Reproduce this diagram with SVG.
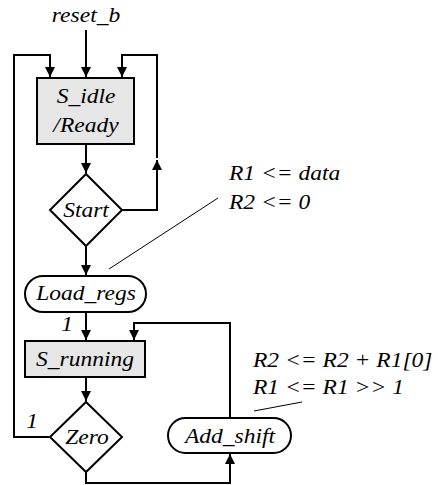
<svg xmlns="http://www.w3.org/2000/svg" width="438" height="485" viewBox="0 0 438 485">
<style>
text{font-family:'Liberation Serif','Times New Roman',Times,serif;font-style:italic;font-size:21px;fill:#000}
.c{text-anchor:middle}
.box{fill:#e6e6e6;stroke:#000;stroke-width:2}
.sh{fill:#fff;stroke:#000;stroke-width:2}
.ln{fill:none;stroke:#000;stroke-width:2}
.thin{fill:none;stroke:#000;stroke-width:1}
</style>
<defs>
<marker id="ah" viewBox="0 0 10 10" refX="10" refY="5" markerWidth="5" markerHeight="5" orient="auto" markerUnits="strokeWidth">
<path d="M0,0 L10,5 L0,10 z" fill="#000"/>
</marker>
</defs>
<rect width="438" height="485" fill="#fff"/>
<g id="connectors">
<path class="ln" d="M86,30 V77" marker-end="url(#ah)"/>
<path class="ln" d="M49,437 H14 V55 H50 V77" marker-end="url(#ah)"/>
<path class="ln" d="M122,210 H157 V160" marker-end="url(#ah)"/>
<path class="ln" d="M157,158 V55 H122 V77" marker-end="url(#ah)"/>
<path class="ln" d="M86,144 V173" marker-end="url(#ah)"/>
<path class="ln" d="M86,246 V275" marker-end="url(#ah)"/>
<path class="ln" d="M86,312 V340" marker-end="url(#ah)"/>
<path class="ln" d="M86,377 V401" marker-end="url(#ah)"/>
<path class="ln" d="M86,472 V483 H230 V454" marker-end="url(#ah)"/>
<path class="ln" d="M230,418 V323 H134 V340" marker-end="url(#ah)"/>
<path class="thin" d="M109,269 L218,198"/>
<path class="thin" d="M254,411 L302,402"/>
<text transform="translate(67,331) scale(1.12,1)" class="c">1</text>
<text transform="translate(32,428) scale(1.12,1)" class="c">1</text>
</g>
<g id="reset_b"><text transform="translate(86,22) scale(1.12,1)" class="c">reset_b</text></g>
<g id="S_idle">
<rect class="box" x="37" y="78" width="97" height="66"/>
<text transform="translate(86,103) scale(1.12,1)" class="c">S_idle</text>
<text transform="translate(86,132) scale(1.12,1)" class="c">/Ready</text>
</g>
<g id="Start">
<polygon class="sh" points="86,174 122,210 86,246 50,210"/>
<text transform="translate(86,217) scale(1.12,1)" class="c">Start</text>
</g>
<g id="Load_regs">
<rect class="sh" x="25" y="276" width="121" height="36" rx="18" ry="18"/>
<text transform="translate(86,300) scale(1.12,1)" class="c">Load_regs</text>
</g>
<g id="S_running">
<rect class="box" x="25" y="341" width="120" height="36"/>
<text transform="translate(85,366) scale(1.12,1)" class="c">S_running</text>
</g>
<g id="Zero">
<polygon class="sh" points="86,402 122,437 86,472 50,437"/>
<text transform="translate(87,444) scale(1.12,1)" class="c">Zero</text>
</g>
<g id="Add_shift">
<rect class="sh" x="168" y="418" width="123" height="35" rx="17.5" ry="17.5"/>
<text transform="translate(230,443) scale(1.12,1)" class="c">Add_shift</text>
</g>
<g id="notes">
<text transform="translate(229,180) scale(1.12,1)">R1 &lt;= data</text>
<text transform="translate(229,209) scale(1.12,1)">R2 &lt;= 0</text>
<text transform="translate(253,367) scale(1.12,1)">R2 &lt;= R2 + R1[0]</text>
<text transform="translate(253,394) scale(1.12,1)">R1 &lt;= R1 &gt;&gt; 1</text>
</g>
</svg>
